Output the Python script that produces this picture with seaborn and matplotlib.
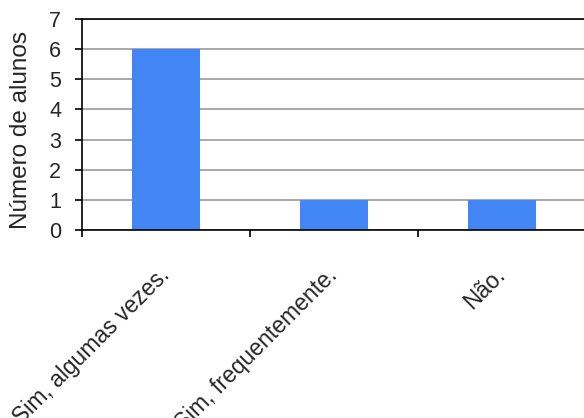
import matplotlib
matplotlib.use("Agg")
import matplotlib.pyplot as plt
import seaborn as sns
import pandas as pd
from matplotlib.ticker import FixedLocator

categories = ["Sim, algumas vezes.", "Sim, frequentemente.", "Não."]
values = [6, 1, 1]
ylabel = "Número de alunos"

sns.set_style("white")
plt.rcParams["font.family"] = ["Liberation Sans", "DejaVu Sans"]

df = pd.DataFrame({"cat": categories, "val": values})

fig = plt.figure(figsize=(5.84, 4.18), dpi=100)
ax = fig.add_axes([82/584, 1 - 230/418, (586 - 82)/584, (230 - 19)/418])
sns.barplot(data=df, x="cat", y="val", color="#4285F4", width=0.4, ax=ax,
            saturation=1, edgecolor="none")
ax.set_xlim(-0.5, 2.5)
ax.set_ylim(0, 7)
ax.set_yticks(range(0, 8))
ax.yaxis.grid(True, color="#999999", linewidth=1.2)
ax.set_axisbelow(True)
for s in ["left", "bottom", "top"]:
    ax.spines[s].set_visible(True)
    ax.spines[s].set_color("black")
    ax.spines[s].set_linewidth(1.2)
ax.spines["right"].set_visible(False)

ax.tick_params(axis="y", which="major", direction="out", length=5, width=1.2,
               color="black", labelsize=15.5, pad=10, left=True)
ax.xaxis.set_minor_locator(FixedLocator([-0.5, 0.5, 1.5]))
ax.tick_params(axis="x", which="minor", direction="out", length=5, width=1.2,
               color="black", bottom=True)
ax.tick_params(axis="x", which="major", length=0, pad=30, labelsize=16.5)
for lab in ax.get_xticklabels():
    lab.set_rotation(45)
    lab.set_ha("right")
    lab.set_va("center")
    lab.set_rotation_mode("anchor")
ax.set_xlabel("")
ax.set_ylabel(ylabel, fontsize=17.5)
ax.yaxis.label.set_va("center")
ax.yaxis.set_label_coords(-0.122, 0.475)

fig.savefig("out.png", dpi=100)
